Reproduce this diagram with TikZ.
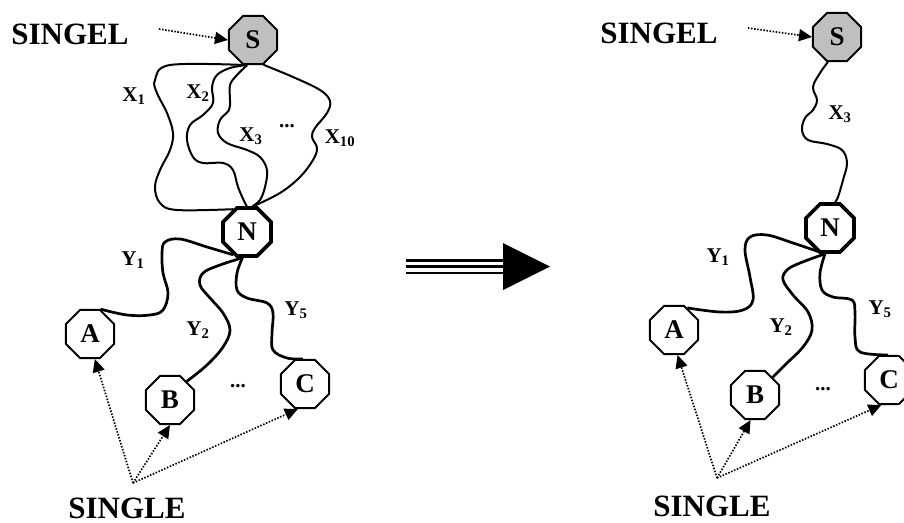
\documentclass[tikz,border=0pt]{standalone}
\usepackage{fontspec}
\setmainfont{Liberation Serif}
\usetikzlibrary{shapes.geometric,arrows.meta}
\tikzset{
  oct/.style={regular polygon, regular polygon sides=8, draw, line width=2pt,
    minimum size=52pt, inner sep=0pt, fill=white, font=\fontsize{27}{27}\selectfont\bfseries},
  grayoct/.style={oct, fill=black!25},
  thickoct/.style={oct, line width=3.6pt},
  big/.style={font=\fontsize{31}{31}\selectfont\bfseries, inner sep=0pt},
  lbl/.style={font=\fontsize{21}{21}\selectfont\bfseries, inner sep=0pt},
  xpath/.style={line width=2pt, line join=round},
  ypath/.style={line width=2.7pt, line join=round},
  ptr/.style={line width=1.7pt, dash pattern=on 1.5pt off 1.6pt, -{Triangle[length=13pt,width=12pt]}},
}
\begin{document}
\begin{tikzpicture}[x=1pt,y=-1pt]
\useasboundingbox (0,0) rectangle (904,522);
%% ---------- left ----------
\node[grayoct] (S) at (253,40) {S};
\node[thickoct] (N) at (247,232) {N};
\node[oct] (A) at (90,334) {A};
\node[oct] (B) at (170,400) {B};
\node[oct] (C) at (305,384) {C};
\node[big] (singel) at (70,34) {SINGEL};
\node[big] (single) at (127,508) {SINGLE};
\coordinate (sgo) at (159,29);
\coordinate (slo) at (133,483);
\draw[ptr] (sgo) -- (S.west);
\draw[ptr] (slo) -- (A.-79);
\draw[ptr] (slo) -- (B.south);
\draw[ptr] (slo) -- (C.-106);
\draw[xpath] plot[smooth, tension=0.6] coordinates {(S.-108) (170,65) (155,80) (157,93) (167,113) (173,133) (170,150) (160,170) (155,187) (160,203) (177,210) (N.121)};
\draw[xpath] plot[smooth, tension=0.6] coordinates {(S.-105) (230,68) (217,75) (212,87) (213,103) (203,115) (190,125) (187,140) (193,157) (203,163) (223,163) (233,170) (238,187) (245,203) (N.90)};
\draw[xpath] plot[smooth, tension=0.6] coordinates {(S.-103) (237,75) (230,85) (230,100) (229,110) (220,120) (218,133) (227,143) (247,150) (260,157) (267,170) (265,187) (260,200) (N.78)};
\draw[xpath] plot[smooth, tension=0.6] coordinates {(S.-67) (293,77) (320,90) (330,101) (327,113) (315,128) (312,137) (317,148) (313,160) (300,177) (280,193) (N.76)};
\draw[ypath] plot[smooth, tension=0.6] coordinates {(N.-121) (207,247) (180,239) (165,242) (162,253) (163,273) (168,293) (163,310) (150,315) (127,315) (A.67)};
\draw[ypath] plot[smooth, tension=0.6] coordinates {(N.-100) (220,265) (203,273) (200,285) (210,298) (223,313) (230,330) (223,347) (207,365) (B.48)};
\draw[ypath] plot[smooth, tension=0.6] coordinates {(N.-100) (237,273) (237,290) (247,298) (267,303) (273,313) (272,333) (273,350) (287,358) (C.95)};
\node[lbl] (x1) at (134,96) {X\textsubscript{1}};
\node[lbl] (x2) at (198,93) {X\textsubscript{2}};
\node[lbl] (x3) at (251,136) {X\textsubscript{3}};
\node[lbl] (xd) at (287,126) {...};
\node[lbl] (x10) at (340,138) {X\textsubscript{10}};
\node[lbl] (y1) at (133,260) {Y\textsubscript{1}};
\node[lbl] (y2) at (198,330) {Y\textsubscript{2}};
\node[lbl] (y5) at (296,310) {Y\textsubscript{5}};
\node[lbl] (yd) at (238,386) {...};
%% ---------- big arrow ----------
\coordinate (ba) at (406,266.6);
\coordinate (bb) at (503,266.6);
\draw[line width=2.7pt] ([yshift=-6.3pt]ba) -- ([yshift=-6.3pt]bb);
\draw[line width=2.7pt] (ba) -- (bb);
\draw[line width=2.7pt] ([yshift=6.3pt]ba) -- ([yshift=6.3pt]bb);
\fill (503,243) -- (550,266.6) -- (503,290) -- cycle;
%% ---------- right ----------
\node[grayoct] (S2) at (837,37) {S};
\node[thickoct] (N2) at (830,228) {N};
\node[oct] (A2) at (674,330) {A};
\node[oct] (B2) at (755,395) {B};
\node[oct] (C2) at (889,380) {C};
\node[big] (singel2) at (659,33) {SINGEL};
\node[big] (single2) at (712,506) {SINGLE};
\coordinate (sgo2) at (748,28);
\coordinate (slo2) at (717,478);
\draw[ptr] (sgo2) -- (S2.west);
\draw[ptr] (slo2) -- (A2.-82);
\draw[ptr] (slo2) -- (B2.-100);
\draw[ptr] (slo2) -- (C2.-107);
\draw[xpath] plot[smooth, tension=0.6] coordinates {(S2.-110) (820,73) (813,87) (817,100) (813,110) (805,118) (802,130) (808,140) (827,144) (842,150) (847,163) (843,180) (838,197) (N2.79)};
\draw[ypath] plot[smooth, tension=0.6] coordinates {(N2.-101) (793,243) (767,235) (750,237) (745,250) (750,277) (753,300) (743,310) (720,312) (A2.59)};
\draw[ypath] plot[smooth, tension=0.6] coordinates {(N2.-101) (800,263) (787,270) (783,280) (793,295) (808,312) (812,330) (803,347) (787,363) (B2.45)};
\draw[ypath] plot[smooth, tension=0.6] coordinates {(N2.-101) (820,273) (822,290) (833,297) (852,300) (855,313) (855,337) (860,352) (C2.92)};
\node[lbl] (x3r) at (840,114) {X\textsubscript{3}};
\node[lbl] (y1r) at (718,257) {Y\textsubscript{1}};
\node[lbl] (y2r) at (781,327) {Y\textsubscript{2}};
\node[lbl] (y5r) at (880,309) {Y\textsubscript{5}};
\node[lbl] (ydr) at (823,389) {...};
\end{tikzpicture}
\end{document}
